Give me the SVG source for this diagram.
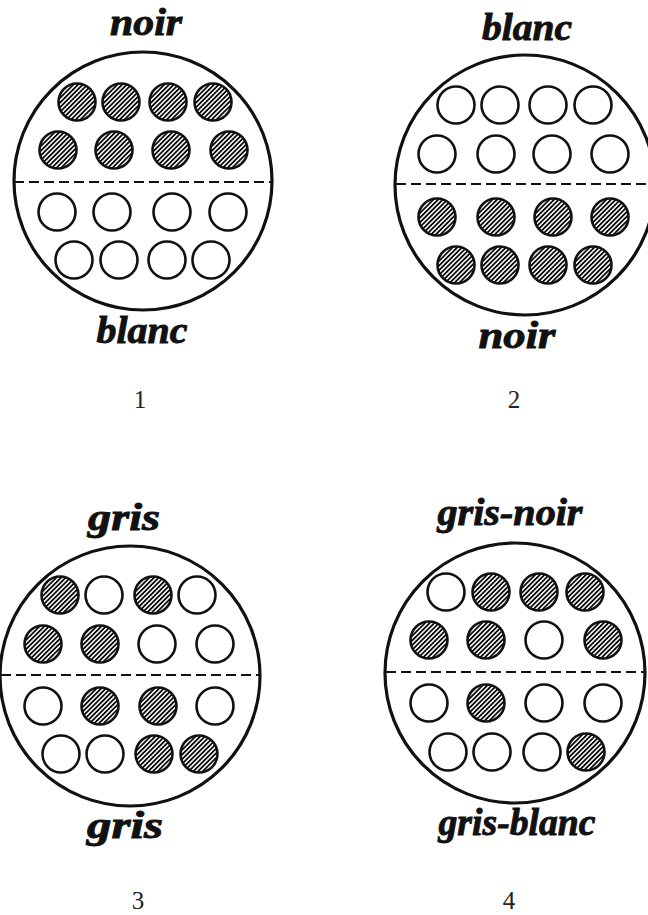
<svg xmlns="http://www.w3.org/2000/svg" width="648" height="915" viewBox="0 0 648 915">
<defs>
<pattern id="hatch" patternUnits="userSpaceOnUse" width="3.3" height="3.3" patternTransform="rotate(45)">
<rect width="3.3" height="3.3" fill="#fff"/>
<line x1="1.65" y1="-1" x2="1.65" y2="4.3" stroke="#000" stroke-width="1.75"/>
</pattern>
<circle id="w" r="18.5" class="dot" fill="#fff"/>
<circle id="h" r="18.5" class="dot" fill="url(#hatch)"/>
</defs>
<style>
.outer{fill:none;stroke:#111;stroke-width:3.2}
.dash{stroke:#111;stroke-width:2;stroke-dasharray:10 5}
.dot{stroke:#111;stroke-width:2.6}
.lbl{font-family:"Liberation Serif","DejaVu Serif",serif;font-weight:bold;font-style:italic;font-size:38px;fill:#111;stroke:#111;stroke-width:0.9;text-anchor:middle}
.num{font-family:"Liberation Serif","DejaVu Serif",serif;font-size:25px;fill:#222;text-anchor:middle}
</style>
<rect width="648" height="915" fill="#fff"/>

<g id="fig1">
<text class="lbl" x="146" y="35" textLength="72" lengthAdjust="spacingAndGlyphs">noir</text>
<circle class="outer" cx="143" cy="181" r="129"/>
<line class="dash" x1="14" y1="182" x2="272" y2="182"/>
<use href="#h" x="77" y="102"/><use href="#h" x="121" y="102"/><use href="#h" x="168" y="102"/><use href="#h" x="213" y="102"/>
<use href="#h" x="58" y="150"/><use href="#h" x="114" y="150"/><use href="#h" x="171" y="150"/><use href="#h" x="229" y="150"/>
<use href="#w" x="57" y="212"/><use href="#w" x="112" y="212"/><use href="#w" x="172" y="212"/><use href="#w" x="228" y="212"/>
<use href="#w" x="74" y="260"/><use href="#w" x="119" y="260"/><use href="#w" x="167" y="260"/><use href="#w" x="211" y="260"/>
<text class="lbl" x="142" y="343" textLength="91" lengthAdjust="spacingAndGlyphs">blanc</text>
<text class="num" x="140" y="408">1</text>
</g>

<g id="fig2">
<text class="lbl" x="527" y="40" textLength="90" lengthAdjust="spacingAndGlyphs">blanc</text>
<circle class="outer" cx="525" cy="185" r="130"/>
<line class="dash" x1="396" y1="184" x2="648" y2="184"/>
<use href="#w" x="456" y="105"/><use href="#w" x="500" y="105"/><use href="#w" x="548" y="105"/><use href="#w" x="593" y="105"/>
<use href="#w" x="437" y="154"/><use href="#w" x="496" y="154"/><use href="#w" x="552" y="154"/><use href="#w" x="610" y="154"/>
<use href="#h" x="437" y="217"/><use href="#h" x="496" y="217"/><use href="#h" x="553" y="217"/><use href="#h" x="610" y="217"/>
<use href="#h" x="456" y="265"/><use href="#h" x="500" y="265"/><use href="#h" x="548" y="265"/><use href="#h" x="593" y="265"/>
<text class="lbl" x="517" y="348" textLength="77" lengthAdjust="spacingAndGlyphs">noir</text>
<text class="num" x="514" y="408">2</text>
</g>

<g id="fig3">
<text class="lbl" x="124" y="530" textLength="72" lengthAdjust="spacingAndGlyphs">gris</text>
<circle class="outer" cx="130" cy="676" r="130"/>
<line class="dash" x1="1" y1="675" x2="259" y2="675"/>
<use href="#h" x="60" y="595"/><use href="#w" x="104" y="595"/><use href="#h" x="153" y="595"/><use href="#w" x="197" y="595"/>
<use href="#h" x="43" y="644"/><use href="#h" x="100" y="644"/><use href="#w" x="157" y="644"/><use href="#w" x="215" y="644"/>
<use href="#w" x="43" y="706"/><use href="#h" x="100" y="706"/><use href="#h" x="158" y="706"/><use href="#w" x="215" y="706"/>
<use href="#w" x="61" y="754"/><use href="#w" x="105" y="754"/><use href="#h" x="154" y="754"/><use href="#h" x="199" y="754"/>
<text class="lbl" x="125" y="838" textLength="76" lengthAdjust="spacingAndGlyphs">gris</text>
<text class="num" x="138" y="909">3</text>
</g>

<g id="fig4">
<text class="lbl" x="510" y="525" textLength="145" lengthAdjust="spacingAndGlyphs">gris-noir</text>
<circle class="outer" cx="515" cy="673" r="130"/>
<line class="dash" x1="386" y1="672" x2="644" y2="672"/>
<use href="#w" x="446" y="592"/><use href="#h" x="491" y="592"/><use href="#h" x="539" y="592"/><use href="#h" x="585" y="592"/>
<use href="#h" x="429" y="640"/><use href="#h" x="486" y="640"/><use href="#w" x="544" y="640"/><use href="#h" x="603" y="640"/>
<use href="#w" x="429" y="703"/><use href="#h" x="486" y="703"/><use href="#w" x="544" y="703"/><use href="#w" x="603" y="703"/>
<use href="#w" x="448" y="752"/><use href="#w" x="492" y="752"/><use href="#w" x="542" y="752"/><use href="#h" x="586" y="752"/>
<text class="lbl" x="517" y="835" textLength="157" lengthAdjust="spacingAndGlyphs">gris-blanc</text>
<text class="num" x="509" y="909">4</text>
</g>
</svg>
